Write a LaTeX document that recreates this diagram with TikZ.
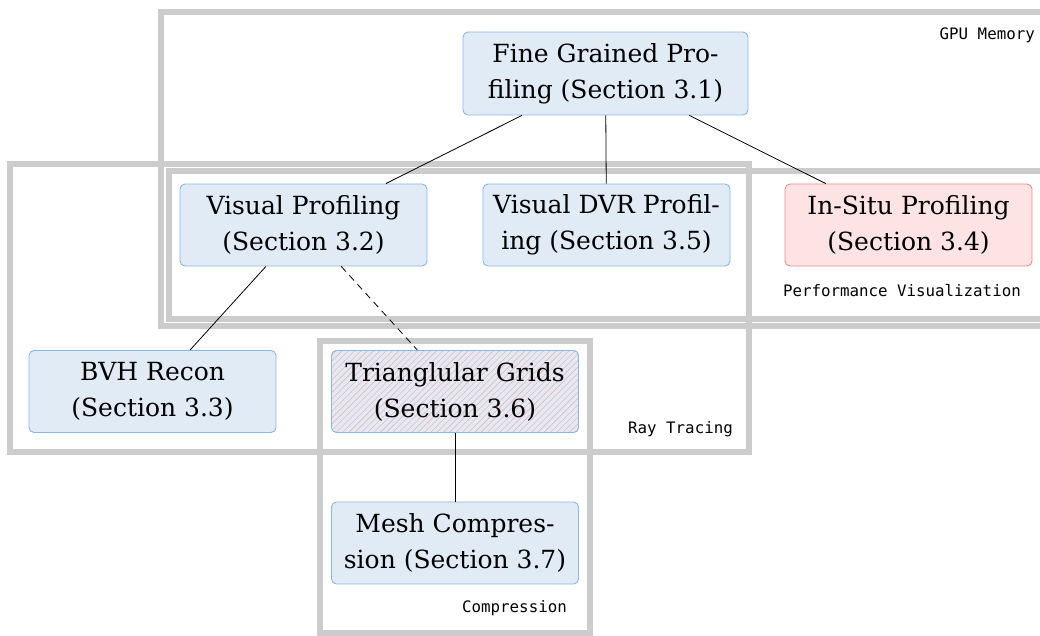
\documentclass[tikz,border=0pt]{standalone}
\usepackage{fontspec}
\setmainfont{DejaVu Serif}
\newfontfamily\labelfont{DejaVu Sans Mono}
\usetikzlibrary{backgrounds}
\definecolor{framegray}{HTML}{CCCCCC}
\definecolor{boxblue}{HTML}{E1EBF5}
\definecolor{edgeblue}{HTML}{8AB6E6}
\definecolor{boxpink}{HTML}{FDE3E4}
\definecolor{edgepink}{HTML}{EE8A8A}
\definecolor{hatchpink}{HTML}{F4B3B7}
\begin{document}
\begin{tikzpicture}[x=1pt,y=-1pt,
  frame/.style={draw=framegray,line width=6pt},
  box/.style={draw=edgeblue,fill=boxblue,line width=0.9pt,rounded corners=5pt,
    minimum width=247pt,minimum height=82pt,inner sep=0pt,align=center,
    font=\fontsize{25}{36}\selectfont},
  hot/.style={box,draw=edgepink,fill=boxpink},
  hatched/.style={box,fill=none},
  hatchline/.style={draw=hatchpink,line width=0.6pt},
  tag/.style={font=\labelfont\fontsize{15.8}{18}\selectfont,inner sep=0pt},
  link/.style={draw=black,line width=0.8pt}]
\useasboundingbox (0,0) rectangle (1040,636);
\clip (0,0) rectangle (1040,636);

% grouping frames
\draw[frame] (161,12) rectangle (1060,325.5);
\draw[frame] (168.5,171.5) rectangle (1060,318.7);
\draw[frame] (10.3,164) rectangle (748.7,452);
\draw[frame] (319.7,341) rectangle (590,633);

% frame captions
\node[tag,anchor=base east] (capgpu) at (1035,39.5) {GPU Memory};
\node[tag,anchor=base east] (capperf) at (1021,296) {Performance Visualization};
\node[tag,anchor=base east] (capray) at (733,433) {Ray Tracing};
\node[tag,anchor=base east] (capcomp) at (567,612) {Compression};

% work items
\node[box,minimum width=285pt,minimum height=83pt] (fine) at (605.5,73.5) {Fine Grained Pro-\\filing (Section 3.1)};
\node[box] (vp) at (303.5,225) {Visual Profiling\\(Section 3.2)};
\node[box] (dvr) at (606.5,225) {Visual DVR Profil-\\ing (Section 3.5)};
\node[hot] (insitu) at (908.5,225) {In-Situ Profiling\\(Section 3.4)};
\node[box] (bvh) at (152.5,391.5) {BVH Recon\\(Section 3.3)};
\node[hatched] (tri) at (455,391.5) {Trianglular Grids\\(Section 3.6)};
\node[box] (mesh) at (455,543) {Mesh Compres-\\sion (Section 3.7)};

% fill and diagonal hatching behind the triangular grids box
\begin{scope}[on background layer]
  \fill[boxblue,rounded corners=5pt] (tri.south west) rectangle (tri.north east);
  \clip[rounded corners=5pt] (tri.south west) rectangle (tri.north east);
  \foreach \k in {0,...,56}
    \draw[hatchline] ([xshift=\k*6.3pt-90pt]tri.south west) -- ++(90,-90);
\end{scope}

% dependencies
\draw[link] (fine) -- (vp);
\draw[link] (fine) -- (dvr);
\draw[link] (fine) -- (insitu);
\draw[link] (vp) -- (bvh);
\draw[link,dash pattern=on 7pt off 5pt] (vp) -- (tri);
\draw[link] (tri) -- (mesh);
\end{tikzpicture}
\end{document}
